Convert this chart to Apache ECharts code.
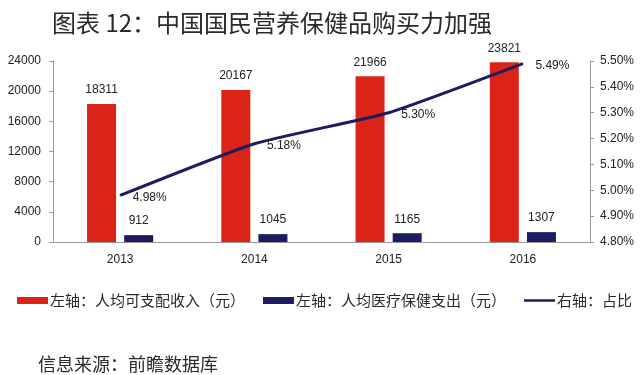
<!DOCTYPE html>
<html>
<head>
<meta charset="utf-8">
<script src="https://cdn.jsdelivr.net/npm/echarts@6/dist/echarts.min.js"></script>
<style>
    html, body { margin: 0; padding: 0; background: #fff; }
    #chart { width: 640px; height: 375px; }
</style>
</head>
<body>
<div id="chart"></div>
<script>
let years = ["2013", "2014", "2015", "2016"];
let income = [18311, 20167, 21966, 23821];
let healthSpend = [912, 1045, 1165, 1307];
let share = [4.98, 5.18, 5.30, 5.49];
let seriesNames = ["左轴：人均可支配收入（元）", "左轴：人均医疗保健支出（元）", "右轴：占比"];

let numFont = "Liberation Sans, Arial, sans-serif";
let cjkFont = "Noto Sans CJK SC, sans-serif";

function paintChart(element) {
    let chart = echarts.init(document.getElementById(element));
    let option = {
        animation: false,
        backgroundColor: "#fff",
        title: [
            {
                text: "图表 12：中国国民营养保健品购买力加强",
                left: 47,
                top: 6,
                textStyle: {
                    fontFamily: cjkFont,
                    fontSize: 24,
                    fontWeight: "normal",
                    color: "#2a2a2a"
                }
            },
            {
                text: "信息来源：前瞻数据库",
                left: 33,
                top: 350,
                textStyle: {
                    fontFamily: cjkFont,
                    fontSize: 18,
                    fontWeight: "normal",
                    color: "#2a2a2a"
                }
            }
        ],
        grid: {
            left: 53,
            right: 50,
            top: 61,
            bottom: 133
        },
        legend: {
            left: 12,
            top: 288,
            itemWidth: 31,
            itemHeight: 7,
            itemGap: 18,
            textStyle: {
                fontFamily: cjkFont,
                fontSize: 15,
                color: "#2a2a2a",
                padding: [0, 0, 0, -3]
            },
            data: [
                {name: seriesNames[0], icon: "rect"},
                {name: seriesNames[1], icon: "rect"},
                {name: seriesNames[2], icon: "path://M0,2.5H31V5H0Z"}
            ]
        },
        xAxis: {
            type: "category",
            data: years,
            axisLine: {lineStyle: {color: "#999"}},
            axisTick: {show: false},
            axisLabel: {
                margin: 12,
                fontFamily: numFont,
                fontSize: 12,
                color: "#222"
            }
        },
        yAxis: [
            {
                type: "value",
                min: 0,
                max: 24000,
                interval: 4000,
                splitLine: {show: false},
                axisLine: {show: true, lineStyle: {color: "#999"}},
                axisTick: {show: true, length: 4, lineStyle: {color: "#999"}},
                axisLabel: {
                    margin: 12,
                    fontFamily: numFont,
                    fontSize: 12,
                    color: "#222",
                    formatter: function (value) {
                        return String(value);
                    }
                }
            },
            {
                type: "value",
                min: 4.8,
                max: 5.5,
                interval: 0.1,
                splitLine: {show: false},
                axisLine: {show: true, lineStyle: {color: "#999"}},
                axisTick: {show: true, length: 4, lineStyle: {color: "#999"}},
                axisLabel: {
                    margin: 10,
                    fontFamily: numFont,
                    fontSize: 12,
                    color: "#222",
                    formatter: function (value) {
                        return value.toFixed(2) + "%";
                    }
                }
            }
        ],
        series: [
            {
                name: seriesNames[0],
                type: "bar",
                data: income,
                barWidth: 29,
                barGap: "28%",
                itemStyle: {color: "#db2418"},
                label: {
                    show: true,
                    position: "top",
                    distance: 8,
                    fontFamily: numFont,
                    fontSize: 12,
                    color: "#222"
                }
            },
            {
                name: seriesNames[1],
                type: "bar",
                data: healthSpend,
                barWidth: 29,
                itemStyle: {color: "#1e1b61"},
                label: {
                    show: true,
                    position: "top",
                    distance: 8,
                    fontFamily: numFont,
                    fontSize: 12,
                    color: "#222"
                }
            },
            {
                name: seriesNames[2],
                type: "line",
                yAxisIndex: 1,
                data: share,
                smooth: 0.15,
                symbol: "circle",
                symbolSize: 1,
                showSymbol: true,
                lineStyle: {color: "#1e1b61", width: 3},
                itemStyle: {color: "#1e1b61"},
                label: {
                    show: true,
                    position: "right",
                    distance: 12,
                    offset: [0, 2],
                    fontFamily: numFont,
                    fontSize: 12,
                    color: "#222",
                    formatter: function (p) {
                        return p.value.toFixed(2) + "%";
                    }
                },
                z: 5
            }
        ]
    };
    chart.setOption(option);
    window.onresize = function () {
        chart.resize();
    };
}

paintChart("chart");
</script>
</body>
</html>
